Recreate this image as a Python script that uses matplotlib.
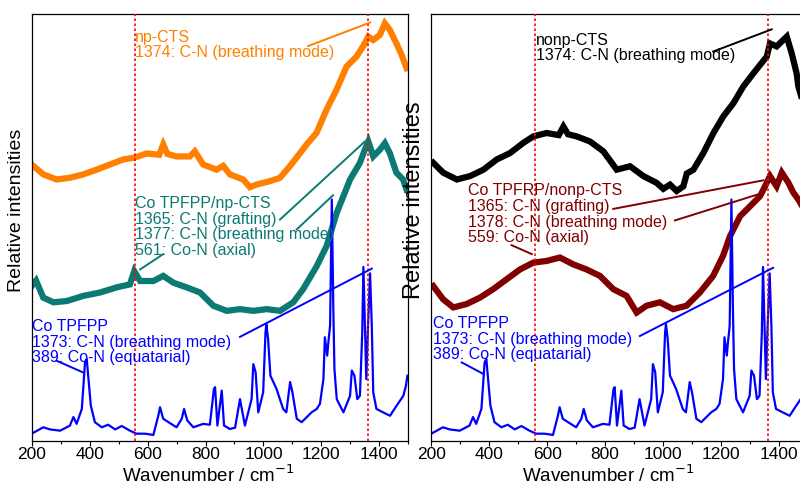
import matplotlib
matplotlib.use("Agg")
import matplotlib.pyplot as plt
from matplotlib.ticker import MultipleLocator

plt.rcParams['font.family'] = ['Liberation Sans', 'DejaVu Sans']

# ---------------- data (relative intensity, arbitrary units 0-100) ----------------
np_cts_x = [200, 240, 286, 332, 378, 424, 470, 516, 553, 597, 640, 654, 668, 700, 746, 763,
            792, 838, 861, 884, 930, 953, 976, 1022, 1057, 1091, 1114, 1149, 1183, 1218, 1252,
            1287, 1321, 1344, 1362, 1379, 1402, 1419, 1436, 1459, 1477, 1494]
np_cts_y = [64.7, 62.4, 61.2, 61.6, 62.4, 63.5, 64.7, 65.9, 66.3, 67.3, 67.0, 69.4, 67.2,
            66.6, 66.6, 67.8, 64.7, 63.5, 64.4, 62.4, 61.2, 59.4, 60.0, 60.8, 61.6, 64.3, 66.3,
            69.4, 72.1, 77.6, 82.2, 87.7, 90.0, 92.4, 94.7, 93.9, 95.1, 97.8, 96.3, 93.1, 90.4,
            87.3]

co_np_x = [200, 215, 240, 275, 321, 378, 436, 493, 539, 554, 574, 620, 654, 689, 735, 781, 827,
           873, 919, 965, 1011, 1057, 1103, 1137, 1184, 1218, 1253, 1276, 1299, 1333, 1350,
           1362, 1379, 1402, 1419, 1436, 1459, 1482, 1494]
co_np_y = [36.2, 37.5, 33.5, 32.4, 32.7, 33.9, 34.7, 35.9, 36.6, 39.7, 37.4, 37.4, 38.6, 37.0,
           35.9, 34.7, 31.6, 30.4, 30.8, 30.4, 30.8, 30.4, 32.4, 35.5, 40.9, 45.6, 53.4, 57.3,
           61.2, 65.1, 68.2, 70.1, 66.6, 68.2, 69.7, 67.4, 62.8, 61.2, 58.8]

cotpfpp_x = [200, 240, 263, 298, 332, 344, 355, 373, 384, 390, 395, 404, 418, 442, 464, 488, 511,
             539, 562, 591, 620, 637, 643, 654, 672, 700, 718, 726, 737, 758, 792, 815, 829, 833,
             841, 856, 864, 884, 902, 919, 936, 959, 965, 973, 982, 999, 1007, 1010, 1016, 1024,
             1045, 1068, 1079, 1092, 1100, 1115, 1132, 1166, 1184, 1195, 1207, 1212, 1220, 1224,
             1230, 1236, 1241, 1245, 1253, 1276, 1299, 1305, 1314, 1324, 1333, 1341, 1345, 1350,
             1355, 1361, 1368, 1374, 1379, 1390, 1413, 1437, 1460, 1483, 1492, 1497]
cotpfpp_y = [1.6, 3.1, 2.6, 2.3, 3.5, 5.5, 3.9, 7.4, 18.3, 19.1, 15.2, 8.2, 4.3, 3.1, 3.7, 2.6,
             3.4, 2.3, 1.6, 1.6, 1.3, 5.8, 7.8, 5.1, 4.3, 3.1, 5.1, 7.4, 4.7, 3.1, 3.9, 3.7, 12.1,
             12.5, 3.5, 11.7, 3.5, 2.7, 3.0, 9.7, 3.5, 9.7, 17.9, 16.0, 6.6, 11.3, 25.3, 27.3,
             23.8, 15.2, 12.1, 7.4, 6.6, 13.7, 11.3, 5.1, 4.3, 6.6, 7.4, 8.6, 14.4, 24.2, 19.9,
             23.0, 26.9, 56.5, 31.6, 16.8, 9.7, 6.6, 10.5, 16.4, 15.2, 9.7, 10.5, 25.3, 40.7,
             27.7, 14.4, 26.9, 39.2, 26.9, 11.3, 7.4, 6.6, 5.8, 8.2, 10.5, 12.9, 15.2]

nonp_cts_x = [207, 241, 288, 334, 380, 426, 472, 518, 552, 598, 640, 656, 672, 702, 748, 794,
              840, 886, 932, 978, 1001, 1024, 1047, 1070, 1082, 1105, 1139, 1174, 1208, 1243,
              1277, 1312, 1340, 1358, 1369, 1392, 1427, 1444, 1461, 1467, 1480]
nonp_cts_y = [65.1, 62.8, 61.2, 62.0, 63.5, 65.9, 67.4, 69.8, 71.3, 72.1, 71.6, 73.6, 71.8,
              71.3, 70.1, 67.8, 63.5, 64.3, 62.0, 60.4, 59.0, 60.0, 58.5, 59.6, 62.6, 63.5,
              67.4, 72.1, 76.0, 79.1, 83.0, 86.1, 88.5, 90.0, 93.1, 92.4, 94.7, 90.8, 86.1,
              83.0, 80.0]

co_nonp_x = [207, 241, 276, 322, 368, 414, 460, 506, 552, 598, 644, 690, 736, 782, 828, 874,
             909, 943, 989, 1035, 1081, 1127, 1173, 1207, 1231, 1266, 1300, 1335, 1352, 1369,
             1392, 1410, 1433, 1450, 1467, 1480]
co_nonp_y = [36.2, 33.1, 31.2, 32.0, 33.5, 35.5, 37.8, 40.1, 41.7, 42.1, 42.9, 41.3, 40.1,
             38.6, 35.5, 33.9, 30.0, 31.6, 32.4, 30.8, 31.6, 34.7, 38.6, 43.3, 47.9, 52.6,
             54.9, 57.3, 59.6, 62.0, 59.6, 62.8, 60.4, 58.1, 56.5, 55.0]

ref_lines = [558, 1362]
x_ticks = [200, 400, 600, 800, 1000, 1200, 1400]

# label texts
left_labels = ["np-CTS\n1374: C-N (breathing mode)",
               "Co TPFPP/np-CTS\n1365: C-N (grafting)\n1377: C-N (breathing mode)\n561: Co-N (axial)",
               "Co TPFPP\n1373: C-N (breathing mode)\n389: Co-N (equatarial)"]
right_labels = ["nonp-CTS\n1374: C-N (breathing mode)",
                "Co TPFRP/nonp-CTS\n1365: C-N (grafting)\n1378: C-N (breathing mode)\n559: Co-N (axial)",
                "Co TPFPP\n1373: C-N (breathing mode)\n389: Co-N (equatarial)"]
# label anchors (x, top y)
left_label_pos = [(556, 96.3), (556, 57.3), (202, 28.5)]
right_label_pos = [(561, 95.6), (328, 60.3), (207, 29.2)]
# leader lines: ((x0, y0), (x1, y1))
left_leaders = [[((1155, 92.5), (1368, 98.0))],
                [((1057, 51.8), (1350, 70.1)), ((1115, 49.5), (1240, 57.5)), ((574, 40.1), (654, 43.7))],
                [((919, 24.3), (1374, 40.3)), ((286, 18.7), (376, 16.0))]]
right_leaders = [[((1173, 91.2), (1375, 96.4))],
                 [((828, 54.3), (1346, 61.0)), ((1041, 51.6), (1346, 58.1)), ((477, 45.8), (547, 43.7))],
                 [((920, 24.5), (1380, 40.5)), ((305, 18.3), (380, 15.6))]]

ORANGE = '#FF8000'
TEAL = '#0A7A73'
BLUE = '#0000FF'
WINE = '#800000'
BLACK = '#000000'

fig = plt.figure(figsize=(8.0, 4.86), dpi=100)
W, H = 800.0, 486.0
AX_BOTTOM_PX = 440.5
AX_TOP_PX = 14.0
ax_h = AX_BOTTOM_PX - AX_TOP_PX
ax1 = fig.add_axes([31.7 / W, (H - AX_BOTTOM_PX) / H, 376.6 / W, ax_h / H])
ax2 = fig.add_axes([431.3 / W, (H - AX_BOTTOM_PX) / H, 376.6 / W, ax_h / H])


def style(ax, ylab_size, ylab_x, ylab_y):
    ax.set_xlim(200, 1500)
    ax.set_ylim(0, 100)
    ax.set_yticks([])
    ax.set_xticks(x_ticks)
    ax.xaxis.set_minor_locator(MultipleLocator(100))
    ax.tick_params(axis='x', which='major', direction='out', length=3.5, width=0.8,
                   labelsize=12.5, pad=1.0)
    ax.tick_params(axis='x', which='minor', direction='out', length=2.2, width=0.8)
    for s in ax.spines.values():
        s.set_linewidth(0.9)
    ax.set_xlabel('Wavenumber / cm$^{-1}$', fontsize=13.5)
    ax.xaxis.set_label_coords(0.47, -(482.0 - AX_BOTTOM_PX) / ax_h, transform=ax.transAxes)
    ax.xaxis.label.set_va('baseline')
    ax.set_ylabel('Relative intensities', fontsize=ylab_size)
    ax.yaxis.set_label_coords(ylab_x, ylab_y)
    for xv in ref_lines:
        ax.axvline(xv, color='#FF0000', ls=(0, (1.5, 1.5)), lw=1.2, zorder=5)


style(ax1, 14, -0.018, 0.54)
style(ax2, 17, -0.016, 0.563)

noisy_lw = 4.5
ax1.plot(np_cts_x, np_cts_y, color=ORANGE, lw=noisy_lw, solid_joinstyle='miter')
ax1.plot(co_np_x, co_np_y, color=TEAL, lw=noisy_lw, solid_joinstyle='miter')
ax1.plot(cotpfpp_x, cotpfpp_y, color=BLUE, lw=1.6)

ax2.plot(nonp_cts_x, nonp_cts_y, color=BLACK, lw=noisy_lw, solid_joinstyle='miter')
ax2.plot(co_nonp_x, co_nonp_y, color=WINE, lw=noisy_lw, solid_joinstyle='miter')
ax2.plot(cotpfpp_x, cotpfpp_y, color=BLUE, lw=1.6)


def annotate(ax, labels, positions, leaders, colors):
    for lab, (x, y), lines, c in zip(labels, positions, leaders, colors):
        ax.text(x, y, lab, color=c, fontsize=11.5, ha='left', va='top',
                linespacing=1.05, zorder=6)
        for (p0, p1) in lines:
            ax.plot([p0[0], p1[0]], [p0[1], p1[1]], color=c, lw=1.4, zorder=6)


annotate(ax1, left_labels, left_label_pos, left_leaders, [ORANGE, TEAL, BLUE])
annotate(ax2, right_labels, right_label_pos, right_leaders, [BLACK, WINE, BLUE])

fig.savefig('out.png', dpi=100)
